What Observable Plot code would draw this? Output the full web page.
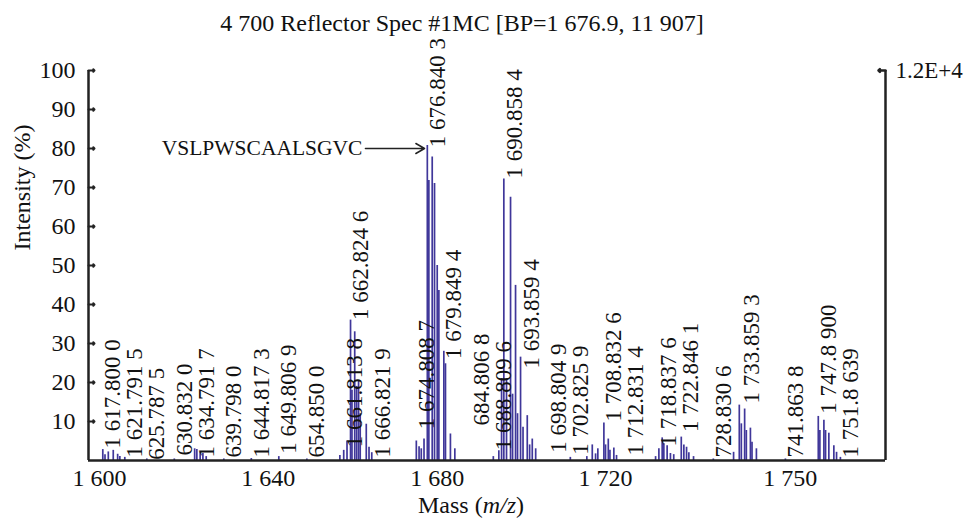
<!DOCTYPE html>
<html><head><meta charset="utf-8">
<script src="https://cdn.jsdelivr.net/npm/d3@7"></script>
<script src="https://cdn.jsdelivr.net/npm/@observablehq/plot@0.6"></script>
<style>
body{margin:0;background:#fff;}
</style>
</head><body><div id="chart"></div>
<script>
const titleText = "4 700 Reflector Spec #1MC [BP=1 676.9, 11 907]";
const yLabelText = "Intensity (%)";
const xLabelText = "Mass (m/z)";
const massDomain = [1615.2, 1760.1];
const xTickValues = [1617.2, 1647.9, 1678.6, 1709.2, 1742.8];
const xTickLabels = ["1 600", "1 640", "1 680", "1 720", "1 750"];
const yTicks = [10, 20, 30, 40, 50, 60, 70, 80, 90, 100];
const rightTicks = [100];
const rightTickLabel = "1.2E+4";

const peakMass = [
  1617.8, 1618.2, 1618.8, 1619.7, 1620.5, 1620.9, 1621.8, 1625.8, 1630.8,
  1634.5, 1634.9, 1635.5, 1636.0, 1636.6, 1639.8, 1644.8, 1649.8, 1654.9,
  1660.9, 1661.6, 1662.2, 1662.84, 1663.1, 1663.6, 1663.95, 1664.3, 1664.6, 1665.7, 1666.2, 1666.7,
  1674.8, 1675.3, 1675.7, 1676.2, 1676.8, 1677.08, 1677.69, 1678.11, 1678.6, 1678.9, 1679.8, 1680.1, 1681.0, 1681.8,
  1688.8, 1689.8, 1690.3, 1690.71, 1691.2, 1691.93, 1692.3, 1692.84, 1693.2, 1693.75, 1694.2, 1694.97, 1695.4, 1695.88, 1696.5,
  1702.8, 1705.8, 1706.79, 1707.39, 1707.8, 1708.9, 1709.2, 1709.7, 1710.0, 1710.71, 1711.2,
  1718.3, 1718.9, 1719.5, 1719.8, 1720.4, 1721.0, 1721.6, 1722.97, 1723.44, 1723.93, 1724.35, 1725.2,
  1728.8, 1732.48, 1733.52, 1733.89, 1734.49, 1734.8, 1735.54, 1735.83, 1736.63, 1741.9,
  1747.88, 1748.17, 1748.9, 1749.2, 1749.8, 1750.71, 1751.2, 1751.9
];
const peakIntensity = [
  2.8, 1.5, 2.2, 2.6, 1.6, 1.0, 0.8, 0.4, 0.4,
  3.0, 2.8, 2.1, 1.8, 1.0, 0.4, 0.5, 1.0, 0.4,
  1.3, 2.6, 5.0, 36, 18, 33, 19, 20.5, 12, 9.3, 3.4, 2.0,
  5.0, 3.5, 3.0, 5.5, 80.8, 71.8, 77.8, 71, 50, 43.6, 28, 24.8, 6.8, 3.0,
  1.0, 2.5, 21, 72.2, 21, 67.5, 17, 44.9, 12, 26.5, 8.5, 11.5, 4, 5.5, 3.0,
  0.8, 1.0, 4.0, 1.7, 3.0, 9.6, 4.0, 5.5, 2.6, 3.2, 1.3,
  1.0, 3.0, 5.8, 4.3, 3.8, 1.8, 1.5, 6.0, 4.0, 3.4, 2.0, 1.0,
  0.4, 2.1, 14.2, 9.4, 13.2, 7.7, 8.3, 4.7, 3.0, 0.4,
  11.3, 7.7, 10.3, 7.7, 7.0, 3.8, 2.1, 0.8
];

const labelMass = [
  1617.8000, 1621.7915, 1625.7875, 1630.8320, 1634.7917, 1639.7980, 1644.8173, 1649.8069, 1654.8500,
  1661.8138, 1662.8246, 1666.8219, 1674.8087, 1676.8403, 1679.8494, 1684.8068, 1688.8096, 1690.8584,
  1693.8594, 1698.8049, 1702.8259, 1708.8326, 1712.8314, 1718.8376, 1722.8461, 1728.8306, 1733.8593,
  1741.8638, 1747.8900, 1751.8639
];
const labelText = [
  "1 617.800 0", "1 621.791 5", "625.787 5", "630.832 0", "1 634.791 7", "639.798 0", "1 644.817 3", "1 649.806 9", "654.850 0",
  "1 661.813 8", "1 662.824 6", "1 666.821 9", "1 674.808 7", "1 676.840 3", "1 679.849 4", "684.806 8", "1 688.809 6", "1 690.858 4",
  "1 693.859 4", "1 698.804 9", "1 702.825 9", "1 708.832 6", "1 712.831 4", "1 718.837 6", "1 722.846 1", "728.830 6", "1 733.859 3",
  "741.863 8", "1 747.8 900", "1 751.8 639"
];
const labelStart = [
  3.1, 0.8, 0.2, 1.3, 0.8, 0.8, 0.8, 1.7, 0.8,
  3.4, 36, 0.8, 8, 80.3, 26, 9, 2.6, 72.3,
  23.6, 2, 1.5, 10, 1.3, 3.6, 7.3, 0.8, 14.6,
  0.8, 12, 0.8
];

const annotationText = "VSLPWSCAALSGVC";
const annotationTextMass = 1665.0;
const annotationPeakMass = 1676.84;
const annotationLevel = 80;

const peaks = peakMass.map((m, i) => ({mass: m, intensity: peakIntensity[i]}));
const labels = labelMass.map((m, i) => ({mass: m, text: labelText[i], y: labelStart[i]}));

const font = '"Liberation Serif", "Times New Roman", serif';
const ink = "#111";
const axisInk = "#222";

const chart = Plot.plot({
  width: 966, height: 524,
  marginLeft: 88, marginRight: 81, marginTop: 70, marginBottom: 64,
  style: {fontFamily: font, background: "#fff", color: ink},
  x: {domain: massDomain},
  y: {domain: [0, 100]},
  marks: [
    Plot.ruleX(peaks, {x: "mass", y: "intensity", stroke: "#40379a", strokeWidth: 1.7}),
    Plot.ruleY([0], {stroke: axisInk, strokeWidth: 2.5}),
    Plot.ruleX([massDomain[0]], {stroke: axisInk, strokeWidth: 2.5}),
    Plot.ruleX([massDomain[1]], {stroke: axisInk, strokeWidth: 2.5}),
    Plot.vector(yTicks, {x: () => massDomain[0], y: d => d, rotate: 90, length: 6, anchor: "start", stroke: axisInk, strokeWidth: 2}),
    Plot.vector(rightTicks, {x: () => massDomain[1], y: d => d, rotate: -90, length: 7, anchor: "start", stroke: axisInk, strokeWidth: 2.5}),
    Plot.axisY({ticks: yTicks, tickSize: 0, tickPadding: 13, fontSize: 24, label: null, fill: ink}),
    Plot.axisY({anchor: "right", ticks: rightTicks, tickFormat: () => rightTickLabel, tickSize: 0, tickPadding: 10, fontSize: 23, label: null, fill: ink}),
    Plot.axisX({ticks: xTickValues, tickFormat: d => xTickLabels[xTickValues.indexOf(d)], tickSize: 0, tickPadding: 8, fontSize: 24, label: null, fill: ink}),
    Plot.text(labels, {x: "mass", y: "y", text: "text", rotate: -90, textAnchor: "start", dx: 10, fontSize: 23, fill: ink}),
    Plot.arrow([{x1: annotationTextMass, x2: annotationPeakMass, y: annotationLevel}], {x1: "x1", x2: "x2", y1: "y", y2: "y", stroke: axisInk, strokeWidth: 1.5, headLength: 10, insetStart: 3, insetEnd: 3}),
    Plot.text([annotationText], {x: () => annotationTextMass, y: () => annotationLevel, textAnchor: "end", fontSize: 21.5, fill: ink}),
    Plot.text([titleText], {frameAnchor: "top", dy: -57, dx: -25, fontSize: 24, fill: ink}),
    Plot.text([yLabelText], {frameAnchor: "left", rotate: -90, dx: -66, dy: -15, fontSize: 24, fill: ink}),
    Plot.text([xLabelText], {frameAnchor: "bottom", dx: -16, dy: 52, fontSize: 24, fill: ink})
  ]
});

document.getElementById("chart").appendChild(chart);
chart.querySelectorAll("text").forEach(t => {
  if (t.textContent === xLabelText) {
    t.textContent = "";
    const ns = "http://www.w3.org/2000/svg";
    const a = document.createElementNS(ns, "tspan"); a.textContent = "Mass (";
    const b = document.createElementNS(ns, "tspan"); b.textContent = "m/z"; b.setAttribute("font-style", "italic");
    const c = document.createElementNS(ns, "tspan"); c.textContent = ")";
    t.append(a, b, c);
  }
});
</script>
</body></html>
